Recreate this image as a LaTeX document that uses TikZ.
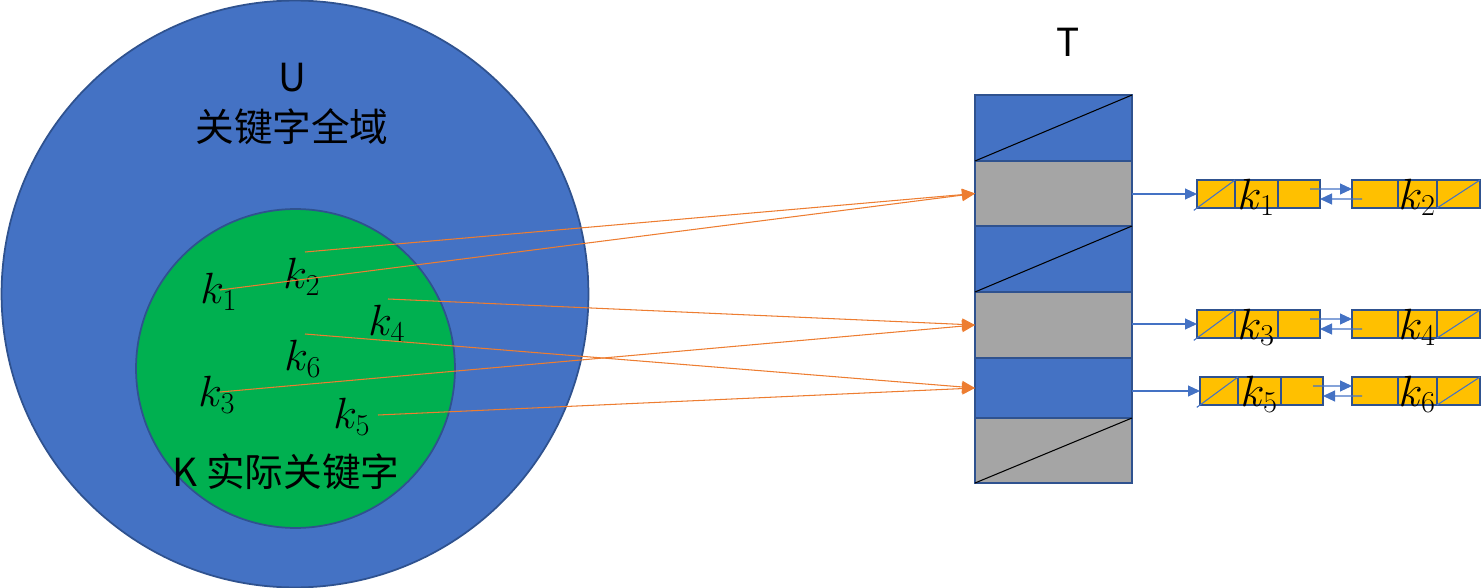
\documentclass[tikz,border=0pt]{standalone}
\usepackage{fontspec}
\setmainfont{Noto Sans CJK SC}
\usetikzlibrary{arrows.meta}
\definecolor{ublue}{HTML}{4472C4}
\definecolor{kgreen}{HTML}{00B050}
\definecolor{bordr}{HTML}{2F528F}
\definecolor{slotgray}{HTML}{A5A5A5}
\definecolor{listgold}{HTML}{FFC000}
\definecolor{hashorange}{HTML}{ED7D31}
\begin{document}
\begin{tikzpicture}[x=0.02cm,y=-0.02cm]
\tikzstyle{every node} = [inner sep=0,outer sep=0,font=\fontsize{22}{28}\selectfont];
\tikzstyle{keylab} = [font=\fontsize{25}{30}\selectfont];
\tikzstyle{slot} = [rectangle,draw=bordr,line width=1.2,minimum width=3.14cm];
\tikzstyle{listcell} = [rectangle,draw=bordr,line width=1.2,fill=listgold,minimum height=0.56cm];
\tikzstyle{hashline} = [draw=hashorange,line width=0.6,-{Triangle[length=0.26cm,width=0.24cm]}];
\tikzstyle{nextptr} = [draw=ublue,line width=0.6,-{Triangle[length=0.24cm,width=0.22cm]}];
\useasboundingbox (0,0) rectangle (1482,588);
% universe and actual keys
\node[circle,draw=bordr,line width=1,fill=ublue,minimum size=11.74cm] (U) at (295,294) {};
\node[circle,draw=bordr,line width=1,fill=kgreen,minimum size=6.38cm] (K) at (295.5,368.5) {};
\node[align=center] (Ulab) at (292,104) {U\\关键字全域};
\node (Klab) at (286,472) {K 实际关键字};
\foreach \i/\x/\y in {1/219/292, 2/302/277, 4/387/324, 6/303/359, 3/217/395, 5/352/417}{
	\node[keylab] (k\i) at (\x,\y) {$k_\i$};
}
% table T
\node (Tlab) at (1068,42) {T};
\foreach \n/\y/\h/\c in {1/128/1.32/ublue, 2/193.5/1.3/slotgray, 3/259/1.32/ublue, 4/325/1.32/slotgray, 5/388/1.2/ublue, 6/450.5/1.3/slotgray}{
	\node[slot,fill=\c,minimum height=\h cm] (s\n) at (1053.5,\y) {};
}
\foreach \n in {1,3,6}{
	\draw[line width=0.6] (s\n.south west) -- (s\n.north east);
}
% chains
\foreach \r/\y/\o/\s/\p/\q in {1/194/0/2/1/2, 2/324/0/4/3/4, 3/391/3/5/5/6}{
	\foreach \c/\l/\w in {1/1197/38, 2/1235/43, 3/1278/42}{
		\node[listcell,minimum width={\w*0.02cm}] (a\r\c) at (\l+\o+\w/2,\y) {};
	}
	\foreach \c/\l/\w in {1/1352/46, 2/1398/39, 3/1437/43}{
		\node[listcell,minimum width={\w*0.02cm}] (b\r\c) at (\l+\w/2,\y) {};
	}
	\draw[ublue,line width=0.6,shorten <=-0.08cm] (a\r1.south west) -- (a\r1.north east);
	\draw[ublue,line width=0.6] (b\r3.south west) -- (b\r3.north east);
	\node[keylab] at ([yshift=-1.8pt]a\r2) {$k_\p$};
	\node[keylab] at ([yshift=-1.8pt]b\r2) {$k_\q$};
	\draw[nextptr] (s\s.east |- a\r1.west) -- (a\r1.west);
	\draw[nextptr] ([shift={(-10,-5)}]a\r3.east) -- ([yshift=0.1cm]b\r1.west);
	\draw[nextptr] ([shift={(10,5)}]b\r1.west) -- ([yshift=-0.1cm]a\r3.east);
}
% hashing
\foreach \i/\x/\y in {1/220/290, 2/305/252, 4/388/299, 3/220/392, 6/305/334, 5/378/415}{
	\coordinate (h\i) at (\x,\y);
}
\foreach \i/\s in {1/2, 2/2, 3/4, 4/4, 5/5, 6/5}{
	\draw[hashline] (h\i) -- (s\s.west);
}
\end{tikzpicture}
\end{document}
